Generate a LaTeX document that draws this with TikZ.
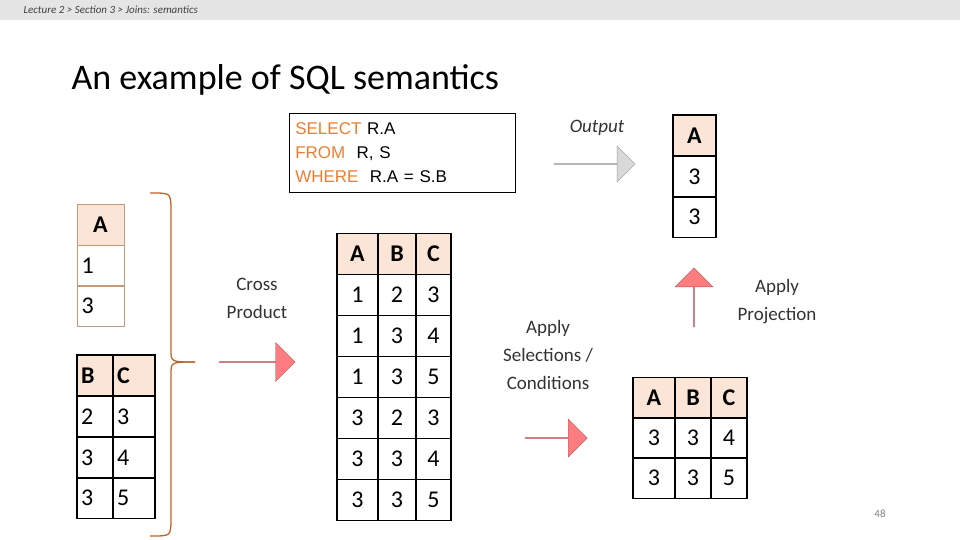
\documentclass[tikz,border=0pt]{standalone}
\usepackage{fontspec}
\setmainfont{Carlito}
\newfontfamily\sqlfont{Liberation Sans}
\usetikzlibrary{shapes.arrows}
\definecolor{hdr}{HTML}{FBE5D6}
\definecolor{keyw}{HTML}{ED7D31}
\definecolor{redarr}{HTML}{FF7C80}
\definecolor{greyarr}{HTML}{D9D9D9}
\definecolor{rborder}{HTML}{C49A78}

\begin{document}
\begin{tikzpicture}[x=1pt,y=-1pt,
	cell/.style={draw, line width=1.3pt, minimum width=#1, minimum height=41pt, inner sep=0pt, font=\fontsize{24}{24}\selectfont},
	cell/.default=40pt,
	head/.style={fill=hdr, font=\fontsize{24}{24}\selectfont\bfseries},
	lbl/.style={align=center, font=\fontsize{19}{28}\selectfont\addfontfeature{Color=333333}},
	blockarrow/.style={single arrow, draw=#1!70!black, fill=#1, single arrow tip angle=90, inner sep=0pt},
	]
	\useasboundingbox (0,0) rectangle (960,540);
	\fill[gray!20] (0,0) rectangle (960,20);
	\node[anchor=west, font=\fontsize{11}{11}\selectfont\itshape\addfontfeature{Color=404040}] (crumb) at (20,10) {Lecture 2 > Section 3 > Joins: semantics};
	\node[anchor=west, font=\fontsize{36}{36}\selectfont] (title) at (68,80) {An example of SQL semantics};

	% query
	\node[draw, line width=0.6pt, anchor=north west, minimum width=226pt, minimum height=79pt, align=left,
		inner xsep=6pt, inner ysep=4pt, text width=214pt, font=\sqlfont\fontsize{17}{24}\selectfont] (query) at (289,113)
		{\textcolor{keyw}{SELECT} R.A\\ \textcolor{keyw}{FROM}\ \ R, S\\ \textcolor{keyw}{WHERE}\ \ R.A = S.B};

	% table R
	\node[cell=47pt, head, draw=rborder, line width=0.8pt] (r0) at (100.5,224.5) {A};
	\node[cell=47pt, draw=rborder, line width=0.8pt, text width=38pt] (r1) at (100.5,265.5) {1};
	\node[cell=47pt, draw=rborder, line width=0.8pt, text width=38pt] (r2) at (100.5,306) {3};

	% table S
	\foreach \y/\b/\c [count=\i from 0] in {375.5/B/C, 416.5/2/3, 457.5/3/4, 498/3/5}{
		\ifnum\i=0
			\node[cell=36pt, head, text width=28pt] (sb\i) at (95,\y) {\b};
			\node[cell=42pt, head, text width=34pt] (sc\i) at (134,\y) {\c};
		\else
			\node[cell=36pt, text width=28pt] (sb\i) at (95,\y) {\b};
			\node[cell=42pt, text width=34pt] (sc\i) at (134,\y) {\c};
		\fi
	}

	% brace
	\draw[keyw!80!black, line width=1.3pt] (150,193) .. controls (170,193) .. (171,205) -- (171,350)
		.. controls (171,362) .. (195,362);
	\draw[keyw!80!black, line width=1.3pt] (195,362) .. controls (171,362) .. (171,374) -- (171,524)
		.. controls (170,536) .. (150,536);

	\node[lbl] (cross) at (257,298) {Cross\\Product};
	\node[blockarrow=redarr, minimum width=39pt, minimum height=76pt, single arrow head extend=9.5pt] (arr1) at (257,362) {};

	% cross product
	\foreach \a/\b/\c [count=\i from 0] in {A/B/C, 1/2/3, 1/3/4, 1/3/5, 3/2/3, 3/3/4, 3/3/5}{
		\ifnum\i=0
			\node[cell=41pt, head] (ca\i) at (357.5,254) {\a};
			\node[cell=38pt, head] (cb\i) at (397,254) {\b};
			\node[cell=35pt, head] (cc\i) at (433.5,254) {\c};
		\else
			\node[cell=41pt] (ca\i) at (357.5,254+41*\i) {\a};
			\node[cell=38pt] (cb\i) at (397,254+41*\i) {\b};
			\node[cell=35pt] (cc\i) at (433.5,254+41*\i) {\c};
		\fi
	}

	\node[lbl] (select) at (548,355) {Apply\\Selections /\\Conditions};
	\node[blockarrow=redarr, minimum width=38pt, minimum height=62pt, single arrow head extend=9pt] (arr2) at (556,438) {};

	% selected rows
	\foreach \a/\b/\c [count=\i from 0] in {A/B/C, 3/3/4, 3/3/5}{
		\ifnum\i=0
			\node[cell=42pt, head] (sa\i) at (654,398) {\a};
			\node[cell=36pt, head] (ss\i) at (693,398) {\b};
			\node[cell=36pt, head] (st\i) at (729,398) {\c};
		\else
			\node[cell=42pt] (sa\i) at (654,398+40*\i) {\a};
			\node[cell=36pt] (ss\i) at (693,398+40*\i) {\b};
			\node[cell=36pt] (st\i) at (729,398+40*\i) {\c};
		\fi
	}

	\node[lbl] (proj) at (777,302) {Apply\\Projection};
	\node[blockarrow=redarr, rotate=90, minimum width=38pt, minimum height=59pt, single arrow head extend=10pt] (arr3) at (694,297.5) {};

	% output
	\node[cell=43pt, head] (o0) at (694.5,135.5) {A};
	\node[cell=43pt] (o1) at (694.5,176.5) {3};
	\node[cell=43pt] (o2) at (694.5,217) {3};
	\node[lbl, font=\fontsize{19}{24}\selectfont\itshape\addfontfeature{Color=333333}] (out) at (597,128) {Output};
	\node[blockarrow=greyarr, minimum width=36pt, minimum height=81pt, single arrow head extend=9.5pt] (arr4) at (594.5,164) {};

	\node[font=\fontsize{11}{11}\selectfont\addfontfeature{Color=808080}] (page) at (880,514) {48};
\end{tikzpicture}
\end{document}
